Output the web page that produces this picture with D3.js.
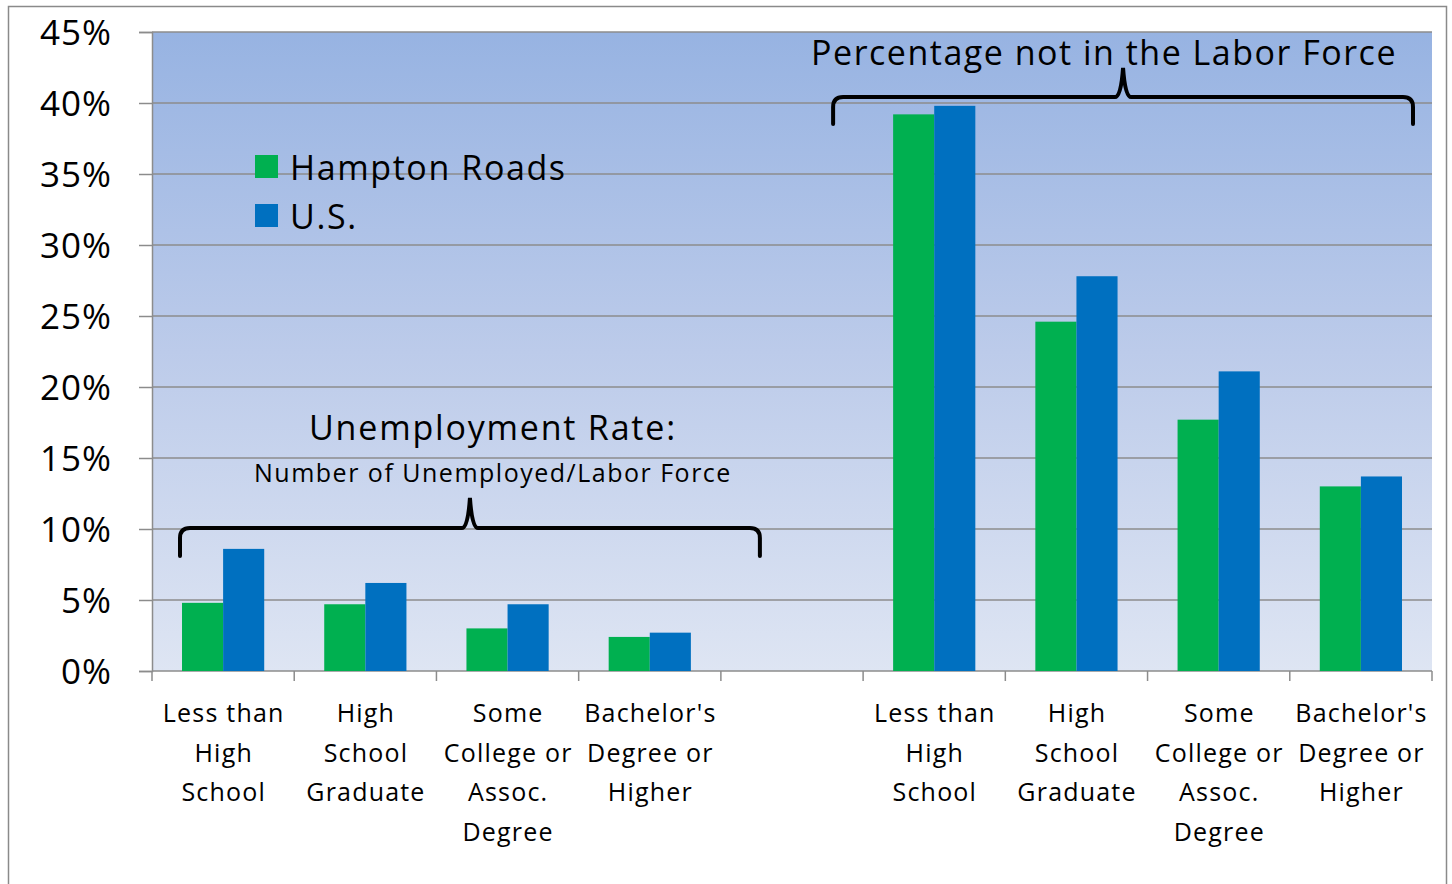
<!DOCTYPE html>
<html><head><meta charset="utf-8">
<script src="https://cdn.jsdelivr.net/npm/d3@7"></script>
<style>html,body{margin:0;padding:0;background:#fff;}svg{display:block;}</style>
</head><body>
<script>
// ---- data ----
const categories = ["Less than High School","High School Graduate","Some College or Assoc. Degree","Bachelor's Degree or Higher"];
const categoryLines = [["Less than","High","School"],["High","School","Graduate"],["Some","College or","Assoc.","Degree"],["Bachelor's","Degree or","Higher"]];
const seriesNames = ["Hampton Roads","U.S."];
const unemploymentHR = [4.8, 4.7, 3.0, 2.4];
const unemploymentUS = [8.6, 6.2, 4.7, 2.7];
const notInLaborHR = [39.2, 24.6, 17.7, 13.0];
const notInLaborUS = [39.8, 27.8, 21.1, 13.7];
const yTicks = [0,5,10,15,20,25,30,35,40,45];
const groupTitles = ["Unemployment  Rate:","Number of Unemployed/Labor Force","Percentage not in the Labor Force"];

const colors = {"Hampton Roads":"#00b050","U.S.":"#0070c0"};
const font = "'Open Sans', sans-serif";

const W = 1452, H = 884;
const svg = d3.select("body").append("svg").attr("width",W).attr("height",H);

const plot = {l:152, r:1432, t:32, b:671};

// slots: 4 unemployment + 1 gap + 4 not in labor force
const slots = ["u0","u1","u2","u3","gap","n0","n1","n2","n3"];
const x0 = d3.scaleBand().domain(slots).range([plot.l, plot.r]).padding(0);
const sw = x0.bandwidth();
const x1 = d3.scaleBand().domain(seriesNames).range([sw*0.211, sw*0.789]).padding(0);
const y = d3.scaleLinear().domain([0,45]).range([plot.b, plot.t]);

// outer border
svg.append("rect").attr("x",8.5).attr("y",6.5).attr("width",1438).attr("height",900)
  .attr("fill","#fff").attr("stroke","#8a8a8a").attr("stroke-width",1.5);

// gradient background
const defs = svg.append("defs");
const grad = defs.append("linearGradient").attr("id","bg").attr("x1",0).attr("y1",0).attr("x2",0).attr("y2",1);
grad.append("stop").attr("offset","0%").attr("stop-color","#97b3e2");
grad.append("stop").attr("offset","50%").attr("stop-color","#bccbea");
grad.append("stop").attr("offset","100%").attr("stop-color","#dee5f3");
svg.append("rect").attr("x",plot.l).attr("y",plot.t).attr("width",plot.r-plot.l).attr("height",plot.b-plot.t).attr("fill","url(#bg)");

// gridlines
svg.append("g").selectAll("line").data(yTicks.filter(d=>d>0)).join("line")
  .attr("x1",plot.l).attr("x2",plot.r).attr("y1",d=>y(d)).attr("y2",d=>y(d))
  .attr("stroke","#8c8c8c").attr("stroke-width",1.5);

// y axis
const yAxis = d3.axisLeft(y).tickValues(yTicks).tickFormat(d=>d+"%").tickSize(13).tickPadding(27);
const gy = svg.append("g").attr("transform",`translate(${plot.l},0)`).call(yAxis);
gy.select(".domain").attr("stroke","#8c8c8c").attr("stroke-width",1.5);
gy.selectAll(".tick line").attr("stroke","#8c8c8c").attr("stroke-width",1.5);
gy.selectAll(".tick text").attr("font-family",font).attr("font-size",35).attr("fill","#000").attr("dy","0.36em").attr("letter-spacing","1px");

// x axis line + ticks at slot boundaries
svg.append("line").attr("x1",plot.l).attr("x2",plot.r).attr("y1",plot.b).attr("y2",plot.b).attr("stroke","#8c8c8c").attr("stroke-width",1.5);
const bounds = slots.map(s=>x0(s)).concat([plot.r]);
svg.append("g").selectAll("line").data(bounds).join("line")
  .attr("x1",d=>d).attr("x2",d=>d).attr("y1",plot.b).attr("y2",plot.b+10)
  .attr("stroke","#8c8c8c").attr("stroke-width",1.5);

// bars
const barData = [];
categories.forEach((c,i)=>{
  barData.push({slot:"u"+i, s:"Hampton Roads", v:unemploymentHR[i]});
  barData.push({slot:"u"+i, s:"U.S.", v:unemploymentUS[i]});
  barData.push({slot:"n"+i, s:"Hampton Roads", v:notInLaborHR[i]});
  barData.push({slot:"n"+i, s:"U.S.", v:notInLaborUS[i]});
});
svg.append("g").selectAll("rect").data(barData).join("rect")
  .attr("x",d=>x0(d.slot)+x1(d.s)).attr("width",x1.bandwidth())
  .attr("y",d=>y(d.v)).attr("height",d=>y(0)-y(d.v))
  .attr("fill",d=>colors[d.s]);

// x labels
const labelSlots = [];
categoryLines.forEach((lines,i)=>{ labelSlots.push({slot:"u"+i, lines}); labelSlots.push({slot:"n"+i, lines}); });
const xl = svg.append("g").selectAll("text").data(labelSlots).join("text")
  .attr("font-family",font).attr("font-size",25).attr("text-anchor","middle").attr("fill","#000").attr("letter-spacing","1.2px");
xl.each(function(d){
  const t = d3.select(this);
  d.lines.forEach((ln,k)=>{
    t.append("tspan").attr("x",x0(d.slot)+sw/2+0.6).attr("y",722+k*39.5).text(ln);
  });
});

// legend
const leg = svg.append("g");
seriesNames.forEach((s,i)=>{
  leg.append("rect").attr("x",255).attr("y",155+i*49).attr("width",23).attr("height",23).attr("fill",colors[s]);
  leg.append("text").attr("x",290).attr("y",180+i*49).attr("font-family",font).attr("font-size",34).attr("fill","#000").attr("letter-spacing","1.6px").text(s);
});

// brace helper
function brace(xl, xr, yb, yh, ytip){
  const xm = (xl+xr)/2, r = 10;
  return `M${xl},${yb} L${xl},${yh+r} Q${xl},${yh} ${xl+r},${yh} L${xm-8},${yh} Q${xm-2},${yh} ${xm},${ytip} Q${xm+2},${yh} ${xm+8},${yh} L${xr-r},${yh} Q${xr},${yh} ${xr},${yh+r} L${xr},${yb}`;
}
const [ul, ur] = [x0("u0")+28, x0("u3")+sw+39];
svg.append("path").attr("d",brace(ul,ur,556,528,498)).attr("fill","none").attr("stroke","#000").attr("stroke-width",4).attr("stroke-linecap","round");
const [nl, nr] = [x0("n0")-30, x0("n3")+sw-19];
svg.append("path").attr("d",brace(nl,nr,124,97,68)).attr("fill","none").attr("stroke","#000").attr("stroke-width",4).attr("stroke-linecap","round");

// group titles
svg.append("text").attr("x",(ul+ur)/2+23).attr("y",440).attr("text-anchor","middle").attr("font-family",font).attr("font-size",34).attr("letter-spacing","1.8px").text(groupTitles[0]);
svg.append("text").attr("x",(ul+ur)/2+23).attr("y",482).attr("text-anchor","middle").attr("font-family",font).attr("font-size",25).attr("letter-spacing","1.5px").text(groupTitles[1]);
svg.append("text").attr("x",(nl+nr)/2-19).attr("y",65).attr("text-anchor","middle").attr("font-family",font).attr("font-size",34).attr("letter-spacing","1.5px").text(groupTitles[2]);
</script>
</body></html>
